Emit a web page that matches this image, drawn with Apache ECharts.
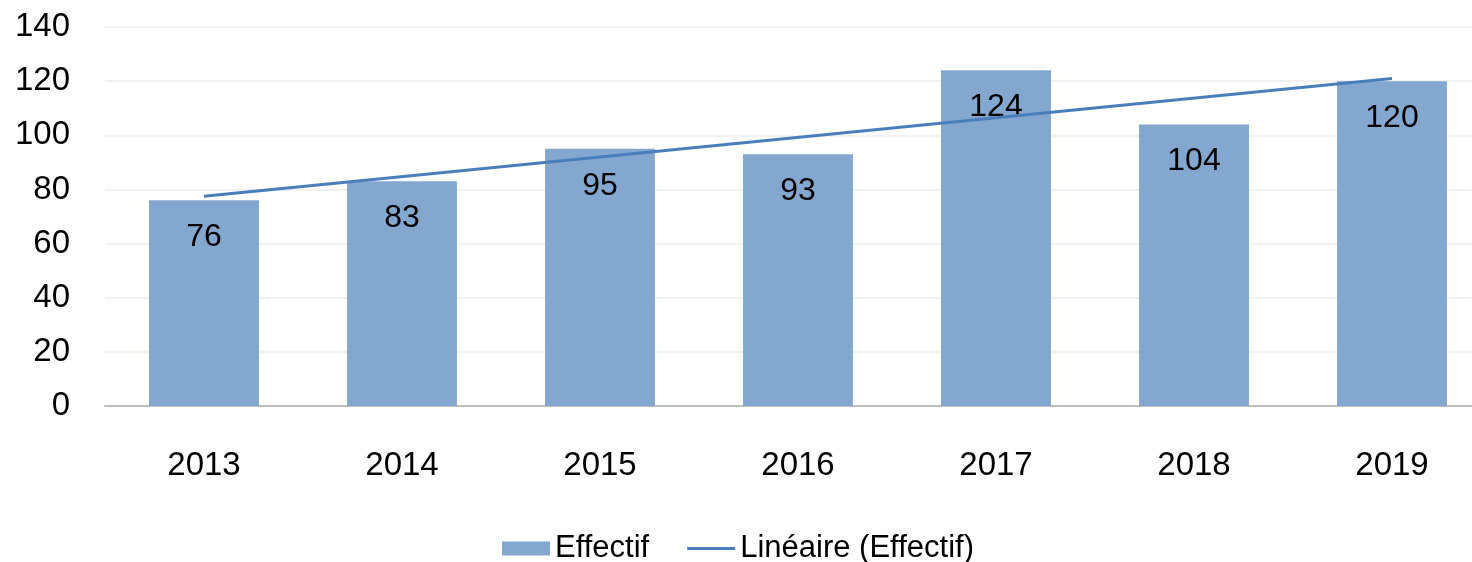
<!DOCTYPE html>
<html><head><meta charset="utf-8">
<script src="https://cdn.jsdelivr.net/npm/echarts@6/dist/echarts.min.js"></script>
<style>html,body{margin:0;padding:0;background:#fff;overflow:hidden;width:1472px;height:562px}#c{width:1500px;height:562px}</style>
</head><body><div id="c"></div>
<script>
var categories = ['2013','2014','2015','2016','2017','2018','2019'];
var effectif = [76, 83, 95, 93, 124, 104, 120];
// linear trend line (endpoints only)
var trend = [77.5, null, null, null, null, null, 121];
var yTicks = [0, 20, 40, 60, 80, 100, 120, 140];

var FONT = '"Liberation Sans", Arial, sans-serif';
var chart = echarts.init(document.getElementById('c'));
chart.setOption({
  animation: false,
  textStyle: {fontFamily: FONT},
  grid: {left: 105, top: 27, width: 1386, bottom: 156, containLabel: false},
  legend: {
    left: 497, top: 528,
    itemWidth: 48, itemHeight: 14, itemGap: 38,
    textStyle: {fontSize: 31, color: '#000', fontFamily: FONT},
    data: [
      {name: 'Effectif', icon: 'rect'},
      {name: 'Linéaire (Effectif)', icon: 'path://M0,0H50V3H0Z', itemStyle: {color: '#4a7ebb'}}
    ]
  },
  xAxis: {
    type: 'category', data: categories,
    axisLine: {lineStyle: {color: '#bfbfbf', width: 2}},
    axisTick: {show: false},
    axisLabel: {fontSize: 33, color: '#000', margin: 43, fontFamily: FONT}
  },
  yAxis: {
    type: 'value', min: yTicks[0], max: yTicks[yTicks.length-1], interval: 20,
    axisLine: {show: false}, axisTick: {show: false},
    axisLabel: {fontSize: 33, color: '#000', margin: 35, fontFamily: FONT},
    splitLine: {lineStyle: {color: '#ededed', width: 1.5}}
  },
  series: [
    {
      name: 'Effectif', type: 'bar', data: effectif, barWidth: '55.5%',
      itemStyle: {color: '#84a7cf'},
      label: {show: true, position: 'insideTop', distance: 21, fontSize: 32, color: '#000', fontFamily: FONT}
    },
    {
      name: 'Linéaire (Effectif)', type: 'line', data: trend, connectNulls: true,
      symbol: 'none', z: 5,
      lineStyle: {color: '#4a7ebb', width: 3},
      itemStyle: {color: '#4a7ebb'}
    }
  ]
});
</script></body></html>
